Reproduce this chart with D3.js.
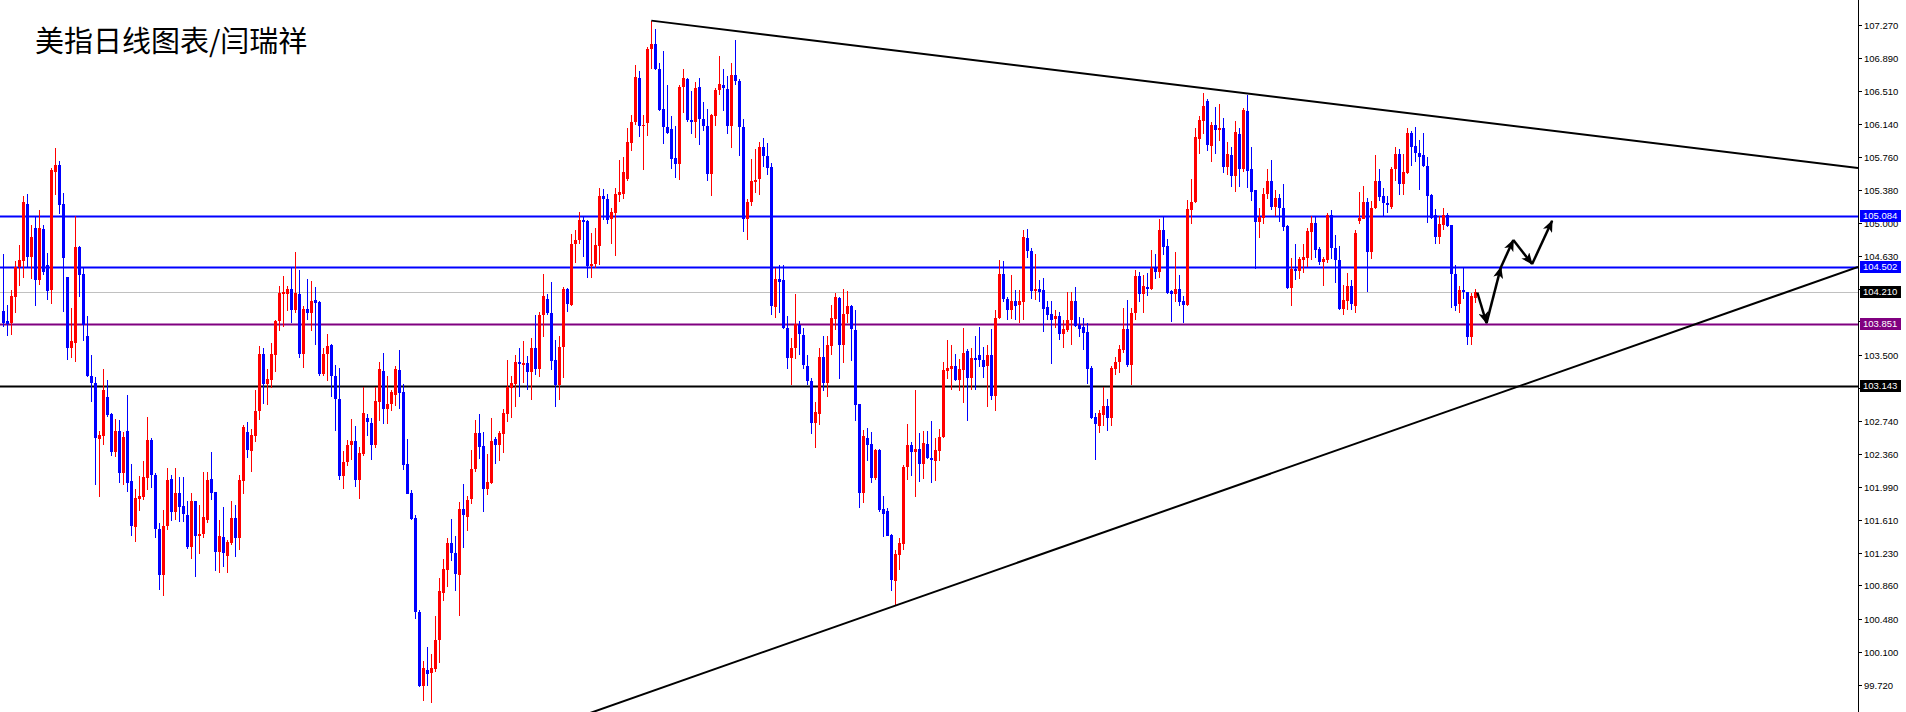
<!DOCTYPE html>
<html>
<head>
<meta charset="utf-8">
<script src="https://cdn.jsdelivr.net/npm/d3@7"></script>
<style>
  html, body { margin: 0; padding: 0; background: #fff; }
  svg { display: block; }
</style>
</head>
<body>
<svg id="chart"></svg>
<script>
const title = "美指日线图表/闫瑞祥";

// daily candles, oldest first
const open = [
  104.00,103.88,103.86,104.16,104.50,104.57,105.22,104.62,104.95,104.35, // 0
  104.94,104.52,104.24,105.59,105.67,105.22,104.39,103.58,103.63,104.73, // 10
  104.42,103.71,103.26,103.18,102.53,102.57,103.01,102.82,102.39,102.62, // 20
  102.14,102.62,102.05,101.53,101.85,101.87,102.09,102.52,102.12,101.51, // 30
  100.98,101.54,102.08,101.70,101.92,101.77,101.67,101.30,101.82,101.42, // 40
  101.45,101.61,102.08,101.93,101.24,101.41,101.20,101.34,101.63,101.40, // 50
  102.05,102.61,102.40,102.57,102.85,103.51,103.16,103.21,103.49,103.88, // 60
  104.19,104.19,104.25,104.01,104.19,103.51,104.02,103.98,104.12,104.10, // 70
  103.28,103.51,103.61,103.25,102.99,102.11,102.27,102.46,102.51,102.06, // 80
  102.36,102.77,102.72,102.46,102.96,103.31,102.88,102.94,103.04,103.32, // 90
  103.07,102.25,101.92,101.63,100.55,99.71,99.89,99.86,99.90,100.23,     // 100
  100.77,101.03,101.35,101.23,100.98,101.73,101.64,101.85,102.19,102.60, // 110
  102.45,101.96,102.03,102.53,102.47,102.59,102.82,103.12,103.16,103.41, // 120
  103.38,103.40,103.30,103.57,103.33,103.95,104.14,103.98,103.44,103.15, // 130
  103.59,104.25,104.07,104.77,104.81,105.04,105.03,104.51,104.54,104.74, // 140
  105.31,105.28,105.05,105.12,105.33,105.34,105.51,105.92,106.16,106.66, // 150
  106.11,106.15,106.99,107.05,106.77,106.31,106.10,106.08,105.75,105.68, // 160
  106.56,106.65,106.18,106.16,106.56,106.20,106.11,105.57,106.23,106.53, // 170
  106.58,106.54,106.11,106.70,106.63,106.10,105.05,105.24,105.47,105.51, // 180
  105.87,105.77,105.64,104.04,104.37,104.35,103.80,103.46,103.57,103.84, // 190
  103.72,103.37,103.20,102.72,102.82,103.47,103.18,103.60,103.91,104.15, // 200
  103.61,103.96,104.06,103.78,102.93,101.92,102.55,102.48,102.09,102.41, // 210
  101.73,101.71,101.44,100.91,101.21,101.33,102.21,102.47,102.39,102.42, // 220
  102.25,102.48,102.32,102.28,102.40,102.56,103.31,103.33,103.37,103.21, // 230
  103.32,103.54,103.23,103.46,103.49,103.44,103.37,103.49,103.03,103.92, // 240
  104.42,104.14,104.01,104.11,104.07,104.10,104.83,104.69,104.23,104.25, // 250
  104.24,104.04,103.96,103.91,103.94,103.73,103.78,103.89,104.11,103.84, // 260
  103.82,103.76,103.35,102.79,102.68,102.81,102.91,102.78,103.33,103.41, // 270
  103.55,103.79,103.38,103.97,104.40,104.19,104.27,104.25,104.49,104.45, // 280
  104.93,104.74,104.23,104.19,104.25,104.11,104.07,105.15,105.24,105.97, // 290
  106.17,106.40,105.89,106.13,106.07,106.09,105.65,105.78,105.54,106.02, // 300
  105.62,106.29,105.62,105.38,105.02,105.06,105.34,105.48,105.19,105.29, // 310
  105.18,104.97,104.26,104.48,104.46,104.58,104.61,104.90,105.00,104.71, // 320
  104.56,104.58,105.10,104.72,104.58,104.02,104.11,104.28,104.06,105.03, // 330
  105.05,105.24,104.67,105.18,105.48,105.31,105.23,105.19,105.62,105.80, // 340
  105.45,105.58,106.03,105.89,105.81,105.78,105.66,105.32,105.10,104.84, // 350
  104.98,105.10,104.98,104.42,104.08,104.24,104.21,103.70,104.15          // 360
];
const high = [
  104.65,104.07,104.24,104.57,104.75,105.31,105.34,104.98,105.08,105.15,
  104.98,104.66,105.63,105.86,105.71,105.35,104.39,104.03,105.08,104.74,
  104.49,103.94,103.49,103.24,102.62,103.34,103.21,102.83,102.76,102.75,
  102.61,103.04,102.25,101.96,102.11,102.28,102.79,102.55,102.14,101.57,
  101.72,102.20,102.12,102.20,102.10,102.10,101.83,101.92,101.83,101.78,
  102.16,102.16,102.38,101.93,101.61,101.76,101.38,101.82,101.78,102.12,
  102.69,102.73,102.65,103.09,103.60,103.58,103.34,103.63,103.89,104.28,
  104.40,104.28,104.50,104.67,104.47,104.05,104.37,104.34,104.27,104.11,
  103.57,103.73,103.62,103.38,103.35,102.40,102.52,102.76,102.68,102.44,
  103.13,102.82,102.77,103.13,103.42,103.52,103.25,103.09,103.37,103.55,
  103.16,102.53,101.95,101.66,100.58,99.99,100.16,100.07,100.51,100.94,
  101.16,101.40,101.62,101.42,101.81,102.02,101.88,102.41,102.75,102.82,
  102.61,102.36,102.78,102.56,102.62,102.88,103.44,103.25,103.49,103.57,
  103.65,103.48,103.69,103.95,103.99,104.42,104.19,104.33,103.67,103.71,
  104.27,104.26,104.88,104.93,105.13,105.08,105.04,104.89,104.95,105.40,
  105.39,105.34,105.18,105.41,105.73,105.76,106.09,106.24,106.81,106.74,
  106.24,107.02,107.32,107.22,106.84,106.97,106.58,106.23,106.12,106.58,
  106.77,106.66,106.51,106.62,106.66,106.39,106.31,106.25,106.55,106.91,
  106.77,106.69,106.84,107.10,106.65,106.20,105.28,105.74,105.85,105.93,
  105.98,105.92,105.69,104.49,104.53,104.52,103.94,103.69,104.19,103.88,
  103.80,103.50,103.23,102.96,103.58,103.71,103.71,104.07,104.20,104.16,
  104.25,104.23,104.07,104.01,102.93,102.64,102.66,102.61,102.42,102.42,
  101.88,101.75,101.45,101.27,101.40,102.24,102.71,102.50,103.09,102.60,
  102.62,102.62,102.74,102.55,102.65,103.41,103.67,103.61,103.51,103.45,
  103.80,103.56,103.58,103.71,103.81,103.59,103.61,103.79,104.01,104.58,
  104.57,104.16,104.41,104.24,104.24,104.93,104.94,104.72,104.65,104.35,
  104.38,104.11,104.11,104.01,103.99,103.89,104.22,104.21,104.27,103.93,
  103.92,103.86,103.37,102.83,102.87,103.13,102.99,103.37,103.47,103.61,
  104.03,104.12,104.03,104.47,104.45,104.41,104.43,104.70,104.65,105.05,
  105.08,104.82,104.24,104.67,104.41,104.17,105.27,105.51,106.09,106.23,
  106.49,106.42,106.16,106.33,106.37,106.21,105.93,105.87,106.17,106.09,
  106.32,106.47,105.87,105.38,105.18,105.40,105.62,105.72,105.38,105.34,
  105.45,104.98,104.60,104.77,104.62,104.77,104.95,105.08,105.08,104.73,
  104.62,105.12,105.15,104.87,104.74,104.30,104.43,104.35,104.92,105.36,
  105.43,105.29,105.26,105.78,105.62,105.41,105.31,105.64,105.88,105.85,
  105.80,106.09,106.06,106.10,105.95,106.03,105.76,105.34,105.16,105.09,
  105.18,105.12,104.98,104.52,104.29,104.49,104.22,104.20,104.25
];
const low = [
  103.81,103.71,103.72,103.97,104.28,104.38,104.49,104.36,104.06,104.30,
  104.41,104.12,104.08,105.32,105.11,103.99,103.44,103.46,103.41,104.16,
  103.65,103.24,102.96,102.01,101.87,102.46,102.79,102.34,102.33,102.03,
  102.01,101.93,101.42,101.36,101.71,101.84,101.95,101.97,101.40,100.81,
  100.74,101.49,101.60,101.61,101.59,101.59,101.28,101.16,100.96,101.22,
  101.40,101.57,101.84,101.02,101.00,101.07,101.00,101.32,101.18,101.27,
  101.90,102.32,102.16,102.50,102.75,102.94,102.92,103.12,103.30,103.77,
  103.81,104.00,103.86,103.98,103.46,103.35,103.89,103.77,103.61,103.26,
  103.26,103.20,103.01,102.62,102.06,101.96,102.22,102.29,101.98,101.85,
  102.34,102.57,102.29,102.43,102.74,102.71,102.70,102.85,102.91,102.88,
  102.18,101.90,101.61,100.47,99.70,99.54,99.71,99.51,99.87,99.97,
  100.68,100.84,101.14,100.80,100.51,101.29,101.48,101.79,102.16,102.31,
  101.70,101.89,102.02,102.25,102.28,102.37,102.73,102.77,102.90,103.02,
  103.17,103.09,102.98,103.27,103.24,103.70,103.95,103.32,102.90,102.98,
  103.23,103.99,104.06,104.55,104.77,104.62,104.38,104.38,104.49,104.52,
  105.04,104.99,104.76,104.63,105.24,105.28,105.48,105.83,106.13,105.99,
  105.61,106.00,106.77,106.76,106.29,105.91,106.02,105.62,105.52,105.50,
  106.26,106.16,106.02,105.98,105.90,106.06,105.48,105.31,106.11,106.47,
  106.29,106.02,105.86,106.58,105.77,104.90,104.81,105.20,105.35,105.33,
  105.64,105.55,103.95,103.92,103.97,103.79,103.34,103.15,103.45,103.50,
  103.33,103.15,102.59,102.43,102.69,103.08,103.01,103.50,103.78,103.22,
  103.40,103.86,103.43,102.74,101.74,101.80,102.28,102.03,102.06,101.70,
  101.41,101.42,100.80,100.64,101.04,101.27,102.06,102.11,101.87,102.04,
  102.08,102.31,102.03,102.05,102.28,102.55,103.22,103.10,103.20,103.08,
  102.95,102.74,103.10,103.09,103.36,103.23,102.90,102.98,102.86,103.91,
  104.10,103.89,103.91,103.90,103.86,103.89,104.61,104.13,104.12,104.10,
  103.76,103.89,103.39,103.80,103.67,103.57,103.76,103.61,103.81,103.70,
  103.55,103.16,102.76,102.29,102.60,102.68,102.63,102.68,103.27,103.29,
  103.52,103.36,103.15,103.89,104.10,103.98,104.17,104.24,104.36,104.38,
  104.64,104.19,103.87,104.10,104.05,103.86,104.05,104.99,105.23,105.80,
  106.02,105.83,105.70,105.80,105.94,105.58,105.55,105.42,105.36,105.42,
  105.59,105.40,105.26,104.48,104.83,104.99,105.28,105.15,105.09,105.02,
  104.91,104.25,104.05,104.35,104.36,104.43,104.50,104.58,104.60,104.52,
  104.29,104.55,104.59,104.32,104.01,103.95,104.01,104.01,103.97,104.99,
  105.05,104.22,104.59,105.17,105.26,105.08,105.12,105.16,105.49,105.33,
  105.33,105.57,105.66,105.70,105.38,105.64,105.00,105.05,104.77,104.76,
  104.93,104.96,104.03,104.00,103.97,104.14,103.61,103.61,104.09
];
const close = [
  103.86,103.85,104.17,104.50,104.58,105.25,104.62,104.85,104.35,104.95,
  104.45,104.23,105.61,105.67,105.21,104.61,103.58,103.65,104.73,104.41,
  103.84,103.25,103.18,102.54,102.58,103.09,102.81,102.39,102.62,102.14,
  102.56,102.03,101.54,101.86,101.88,102.10,102.52,102.12,101.50,100.98,
  101.54,102.06,101.70,101.92,101.76,101.68,101.30,101.82,101.42,101.45,
  101.64,102.07,101.92,101.24,101.42,101.23,101.36,101.63,101.40,102.06,
  102.67,102.41,102.58,102.85,103.51,103.16,103.22,103.51,103.88,104.20,
  104.21,104.25,104.01,104.20,103.51,104.02,103.98,104.11,104.09,103.28,
  103.51,103.60,103.26,102.99,102.11,102.27,102.46,102.51,102.06,102.37,
  102.83,102.73,102.46,102.97,103.33,102.88,102.94,103.07,103.33,103.06,
  102.24,101.91,101.62,100.55,99.71,99.92,99.85,99.91,100.24,100.79,
  101.05,101.35,101.23,100.99,101.73,101.66,101.84,102.19,102.60,102.44,
  101.96,102.04,102.51,102.47,102.60,102.83,103.13,103.17,103.41,103.39,
  103.40,103.30,103.57,103.34,103.95,104.17,103.98,103.43,103.15,103.59,
  104.25,104.08,104.77,104.81,105.04,105.02,104.51,104.54,104.75,105.31,
  105.28,105.04,105.13,105.34,105.36,105.59,105.93,106.16,106.67,106.11,
  106.13,107.00,107.05,106.77,106.30,106.10,106.04,105.74,105.68,106.56,
  106.66,106.18,106.16,106.55,106.19,106.11,105.57,106.24,106.53,106.60,
  106.55,106.11,106.70,106.63,106.10,105.05,105.25,105.48,105.50,105.87,
  105.77,105.63,104.05,104.37,104.33,103.80,103.46,103.58,103.85,103.73,
  103.38,103.20,102.72,102.84,103.47,103.18,103.61,103.92,104.16,103.61,
  103.96,104.06,103.79,102.92,101.92,102.57,102.47,102.09,102.41,101.72,
  101.68,101.43,100.92,101.22,101.34,102.21,102.47,102.39,102.42,102.25,
  102.49,102.32,102.29,102.41,102.56,103.32,103.35,103.37,103.21,103.33,
  103.52,103.23,103.46,103.44,103.44,103.36,103.49,103.03,103.92,104.42,
  104.13,104.01,104.11,104.05,104.11,104.84,104.68,104.23,104.25,104.22,
  104.02,103.95,103.90,103.94,103.73,103.79,103.90,104.11,103.83,103.79,
  103.75,103.33,102.78,102.70,102.83,102.91,102.78,103.35,103.42,103.56,
  103.79,103.38,103.98,104.40,104.19,104.28,104.25,104.49,104.45,104.93,
  104.73,104.20,104.19,104.25,104.10,104.07,105.16,105.25,105.99,106.18,
  106.34,105.90,106.13,106.07,106.09,105.65,105.79,105.54,106.05,105.62,
  106.30,105.60,105.36,105.02,105.07,105.34,105.48,105.19,105.29,105.18,
  104.96,104.26,104.48,104.46,104.59,104.62,104.91,105.00,104.70,104.56,
  104.59,105.10,104.72,104.58,104.02,104.12,104.28,104.08,104.89,105.06,
  105.24,104.67,105.18,105.48,105.30,105.23,105.21,105.62,105.80,105.45,
  105.59,106.03,105.88,105.81,105.76,105.66,105.31,105.06,104.84,104.99,
  105.10,104.97,104.42,104.06,104.24,104.21,103.70,104.17,104.21
];

// price axis labels
const priceTicks = [107.27, 106.89, 106.51, 106.14, 105.76, 105.38, 105.00, 104.63, 104.25, 103.88,
  103.50, 103.12, 102.74, 102.36, 101.99, 101.61, 101.23, 100.86, 100.48, 100.10, 99.72];

// horizontal levels: support / resistance and current price
const levelPrices = [105.084, 104.502, 104.210, 103.851, 103.143];
const levelKinds = ["blue", "blue", "bid", "purple", "black"];

// trend lines as [bar index, price]
const upperTrend = [[162, 107.32], [463.67, 105.634]];
const lowerTrend = [[146.7, 99.40], [463.67, 104.502]];

// projected path arrows [bar index, price]
const arrowPath = [[368.5, 104.21], [370.8, 103.86], [374.4, 104.50], [377.5, 104.81], [382.2, 104.535], [387.2, 105.03]];

const W = 1906, H = 712;
const axisX = 1858;
const fmt = d3.format(".3f");

const svg = d3.select("#chart").attr("width", W).attr("height", H);
svg.append("rect").attr("width", W).attr("height", H).attr("fill", "#fff");

const x = d3.scaleLinear().domain([0, 463.67]).range([3.33, axisX]);
const y = d3.scaleLinear().domain([99.72, 107.27]).range([685, 25]);

svg.append("defs").append("clipPath").attr("id", "plot")
    .append("rect").attr("x", 0).attr("y", 0).attr("width", axisX).attr("height", H);

svg.select("defs").append("marker")
    .attr("id", "head")
    .attr("markerUnits", "userSpaceOnUse")
    .attr("viewBox", "0 0 12 10")
    .attr("refX", 11).attr("refY", 5)
    .attr("markerWidth", 12).attr("markerHeight", 10)
    .attr("orient", "auto")
    .append("path").attr("d", "M0,0 L12,5 L0,10 L3,5 Z").attr("fill", "#000");

const plot = svg.append("g").attr("clip-path", "url(#plot)");

// level lines
const levelColor = { blue: "#0000ff", bid: "#c0c0c0", purple: "#800080", black: "#000000" };
const levelWidth = { blue: 2, bid: 1, purple: 2, black: 2 };
plot.selectAll(".level")
    .data(levelPrices)
    .join("line")
    .attr("class", "level")
    .attr("x1", 0).attr("x2", axisX)
    .attr("y1", d => Math.round(y(d)) + 0.5)
    .attr("y2", d => Math.round(y(d)) + 0.5)
    .attr("stroke", (d, i) => levelColor[levelKinds[i]])
    .attr("stroke-width", (d, i) => levelWidth[levelKinds[i]]);

// candles
const bars = d3.range(open.length).map(i => ({ i, o: open[i], h: high[i], l: low[i], c: close[i] }));
const candle = plot.append("g").attr("shape-rendering", "crispEdges");
candle.selectAll(".wick")
    .data(bars)
    .join("line")
    .attr("class", "wick")
    .attr("x1", d => Math.round(x(d.i)) + 0.5)
    .attr("x2", d => Math.round(x(d.i)) + 0.5)
    .attr("y1", d => y(d.h))
    .attr("y2", d => y(d.l))
    .attr("stroke", d => d.c >= d.o ? "#ff0000" : "#0000ff")
    .attr("stroke-width", 1);
candle.selectAll(".body")
    .data(bars)
    .join("rect")
    .attr("class", "body")
    .attr("x", d => Math.round(x(d.i)) - 1)
    .attr("width", 3)
    .attr("y", d => y(Math.max(d.o, d.c)))
    .attr("height", d => Math.max(1.5, Math.abs(y(d.o) - y(d.c))))
    .attr("fill", d => d.c >= d.o ? "#ff0000" : "#0000ff");

// trend lines
const line = d3.line().x(d => x(d[0])).y(d => y(d[1]));
plot.selectAll(".trend")
    .data([upperTrend, lowerTrend])
    .join("path")
    .attr("class", "trend")
    .attr("d", line)
    .attr("fill", "none")
    .attr("stroke", "#000")
    .attr("stroke-width", 2);

// arrows
plot.selectAll(".arrow")
    .data(d3.pairs(arrowPath))
    .join("line")
    .attr("class", "arrow")
    .attr("x1", d => x(d[0][0])).attr("y1", d => y(d[0][1]))
    .attr("x2", d => x(d[1][0])).attr("y2", d => y(d[1][1]))
    .attr("stroke", "#000")
    .attr("stroke-width", 2.5)
    .attr("marker-end", "url(#head)");

// price axis
const axis = svg.append("g").attr("font-family", "'Liberation Sans', Arial, sans-serif").attr("font-size", "9.5px");
axis.append("line")
    .attr("x1", axisX + 0.5).attr("x2", axisX + 0.5)
    .attr("y1", 0).attr("y2", H)
    .attr("stroke", "#000").attr("stroke-width", 1);
const tick = axis.selectAll(".tick")
    .data(priceTicks)
    .join("g")
    .attr("class", "tick")
    .attr("transform", d => `translate(0,${Math.round(y(d)) + 0.5})`);
tick.append("line")
    .attr("x1", axisX).attr("x2", axisX + 4)
    .attr("stroke", "#000");
tick.append("text")
    .attr("x", axisX + 6)
    .attr("dy", "0.35em")
    .attr("fill", "#000")
    .text(d => fmt(d));

// level value boxes
const boxFill = { blue: "#0000ff", bid: "#000000", purple: "#800080", black: "#000000" };
const box = axis.selectAll(".box")
    .data(levelPrices)
    .join("g")
    .attr("class", "box")
    .attr("transform", d => `translate(0,${Math.round(y(d))})`);
box.append("rect")
    .attr("x", axisX + 2).attr("y", -6)
    .attr("width", 41).attr("height", 12)
    .attr("fill", (d, i) => boxFill[levelKinds[i]]);
box.append("text")
    .attr("x", axisX + 5)
    .attr("dy", "0.35em")
    .attr("fill", "#fff")
    .text(d => fmt(d));

// title
svg.append("text")
    .attr("x", 35).attr("y", 52)
    .attr("font-family", "'Noto Sans CJK SC', sans-serif")
    .attr("font-size", "29px")
    .attr("fill", "#000")
    .text(title);
</script>
</body>
</html>
